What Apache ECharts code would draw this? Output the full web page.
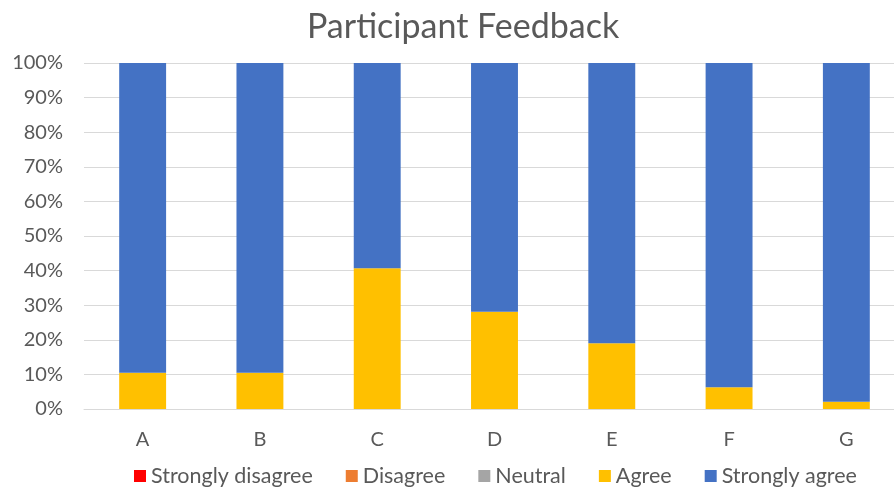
<!DOCTYPE html>
<html>
<head>
<meta charset="utf-8">
<script src="https://cdn.jsdelivr.net/npm/echarts@6/dist/echarts.min.js"></script>
<style>
html,body{margin:0;padding:0;background:#fff;}
#chart{width:894px;height:492px;}
</style>
</head>
<body>
<div id="chart"></div>
<script>
const categories = ['A', 'B', 'C', 'D', 'E', 'F', 'G'];
const stronglyDisagree = [0, 0, 0, 0, 0, 0, 0];
const disagree = [0, 0, 0, 0, 0, 0, 0];
const neutral = [0, 0, 0, 0, 0, 0, 0];
const agree = [10.5, 10.5, 40.7, 28.1, 19.0, 6.3, 2.1];
const stronglyAgree = [89.5, 89.5, 59.3, 71.9, 81.0, 93.7, 97.9];
const seriesNames = ['Strongly disagree', 'Disagree', 'Neutral', 'Agree', 'Strongly agree'];
const seriesColors = ['#FF0000', '#ED7D31', '#A5A5A5', '#FFC000', '#4472C4'];
const seriesData = [stronglyDisagree, disagree, neutral, agree, stronglyAgree];

const font = 'Lato, "Liberation Sans", sans-serif';
const chart = echarts.init(document.getElementById('chart'), null, {renderer: 'canvas'});
chart.setOption({
  animation: false,
  backgroundColor: '#fff',
  title: {
    text: 'Participant Feedback',
    left: 302,
    top: 5,
    textStyle: {fontFamily: font, fontSize: 34, fontWeight: 'normal', color: '#595959'}
  },
  legend: {
    bottom: 0,
    left: 129,
    itemWidth: 12,
    itemHeight: 12,
    itemGap: 33,
    icon: 'rect',
    textStyle: {fontFamily: font, fontSize: 21.5, color: '#595959'},
    data: seriesNames
  },
  grid: {left: 84, width: 821, top: 63, bottom: 83, outerBoundsMode: 'none', containLabel: false},
  xAxis: {
    type: 'category',
    data: categories,
    axisLine: {show: true, lineStyle: {color: '#D9D9D9'}},
    axisTick: {show: false},
    axisLabel: {fontFamily: font, fontSize: 20, color: '#595959', margin: 21}
  },
  yAxis: {
    type: 'value',
    min: 0,
    max: 100,
    interval: 10,
    axisLine: {show: false},
    axisTick: {show: false},
    splitLine: {lineStyle: {color: '#D9D9D9', width: 1}},
    axisLabel: {fontFamily: font, fontSize: 20, color: '#595959', margin: 21, formatter: '{value}%'}
  },
  series: seriesNames.map((name, i) => ({
    name: name,
    type: 'bar',
    stack: 'total',
    barWidth: '40%',
    itemStyle: {color: seriesColors[i]},
    data: seriesData[i]
  }))
});
</script>
</body>
</html>
